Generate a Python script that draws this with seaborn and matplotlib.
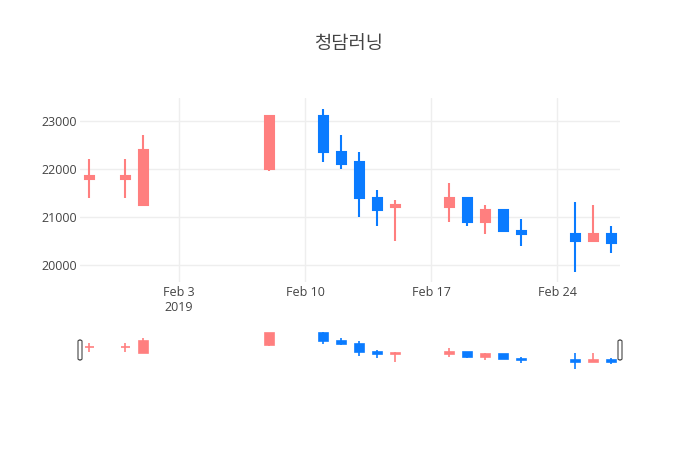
import matplotlib
matplotlib.use("Agg")
import matplotlib.pyplot as plt
import matplotlib.dates as mdates
from matplotlib.patches import FancyBboxPatch
import seaborn as sns
import pandas as pd

dates = ["2019-01-29", "2019-01-31", "2019-02-01", "2019-02-08", "2019-02-11",
         "2019-02-12", "2019-02-13", "2019-02-14", "2019-02-15", "2019-02-18",
         "2019-02-19", "2019-02-20", "2019-02-21", "2019-02-22", "2019-02-25",
         "2019-02-26", "2019-02-27"]
open_ = [21800, 21800, 21250, 22000, 23100, 22350, 22150, 21400, 21200, 21200,
         21400, 20900, 21150, 20700, 20650, 20500, 20650]
high = [22200, 22200, 22700, 23100, 23250, 22700, 22350, 21550, 21350, 21700,
        21400, 21250, 21150, 20950, 21300, 21250, 20800]
low = [21400, 21400, 21250, 21950, 22150, 22000, 21000, 20800, 20500, 20900,
       20800, 20650, 20700, 20400, 19850, 20500, 20250]
close = [21850, 21850, 22400, 23100, 22350, 22100, 21400, 21150, 21250, 21400,
         20900, 21150, 20700, 20650, 20500, 20650, 20450]

title = "청담러닝"
yticks = [20000, 21000, 22000, 23000]
xticks = ["2019-02-03", "2019-02-10", "2019-02-17", "2019-02-24"]
xticklabels = ["Feb 3\n2019", "Feb 10", "Feb 17", "Feb 24"]

UP = "#FF7F7F"
DOWN = "#0A7BFF"

sns.set_theme(style="white")
plt.rcParams["font.family"] = ["Open Sans", "Noto Sans CJK KR", "DejaVu Sans"]

df = pd.DataFrame({"date": pd.to_datetime(dates), "open": open_, "high": high,
                   "low": low, "close": close})
df["x"] = mdates.date2num(df["date"])
df["color"] = [UP if c >= o else DOWN for o, c in zip(df["open"], df["close"])]
df["bottom"] = df[["open", "close"]].min(axis=1)
df["height"] = (df["close"] - df["open"]).abs()

W, H = 700, 450
fig = plt.figure(figsize=(7, 4.5), dpi=100)
ax = fig.add_axes([80 / W, 1 - 282 / H, 540 / W, 184 / H])
sl = fig.add_axes([80 / W, 1 - 371 / H, 540 / W, 42 / H])

xmin, xmax = df["x"].min() - 0.5, df["x"].max() + 0.5
ylo, yhi = 19640, 23480


def candles(a, body_w, lw):
    a.vlines(df["x"], df["low"], df["high"], colors=df["color"], linewidth=lw, zorder=2)
    a.bar(df["x"], df["height"], bottom=df["bottom"], width=body_w,
          color=df["color"], edgecolor=df["color"], linewidth=lw, zorder=3)
    a.set_xlim(xmin, xmax)
    a.set_ylim(ylo, yhi)


candles(ax, 0.5, 1.5)
candles(sl, 0.5, 1.2)

ax.set_yticks(yticks)
ax.set_yticklabels([str(v) for v in yticks])
ax.set_xticks(mdates.date2num(pd.to_datetime(xticks)))
ax.set_xticklabels(xticklabels)
ax.grid(True, color="#eeeeee", linewidth=1)
ax.set_axisbelow(True)
ax.tick_params(axis="both", length=0, labelsize=9, labelcolor="#444444")
ax.tick_params(axis="y", pad=2)
ax.tick_params(axis="x", pad=3)
sns.despine(ax=ax, left=True, bottom=True, top=True, right=True)

sl.set_xticks([])
sl.set_yticks([])
sns.despine(ax=sl, left=True, bottom=True, top=True, right=True)

# range slider grabbers
for px in (80, 620):
    fig.patches.append(FancyBboxPatch(((px - 2) / W, 1 - 360 / H), 4 / W, 20 / H,
                                      boxstyle="round,pad=0,rounding_size=0.003",
                                      transform=fig.transFigure, facecolor="white",
                                      edgecolor="#444444", linewidth=0.8))

fig.text(349 / W, 1 - 44 / H, title, ha="center", va="center", fontsize=13.5,
         color="#444444")

fig.savefig("out.png", dpi=100)
